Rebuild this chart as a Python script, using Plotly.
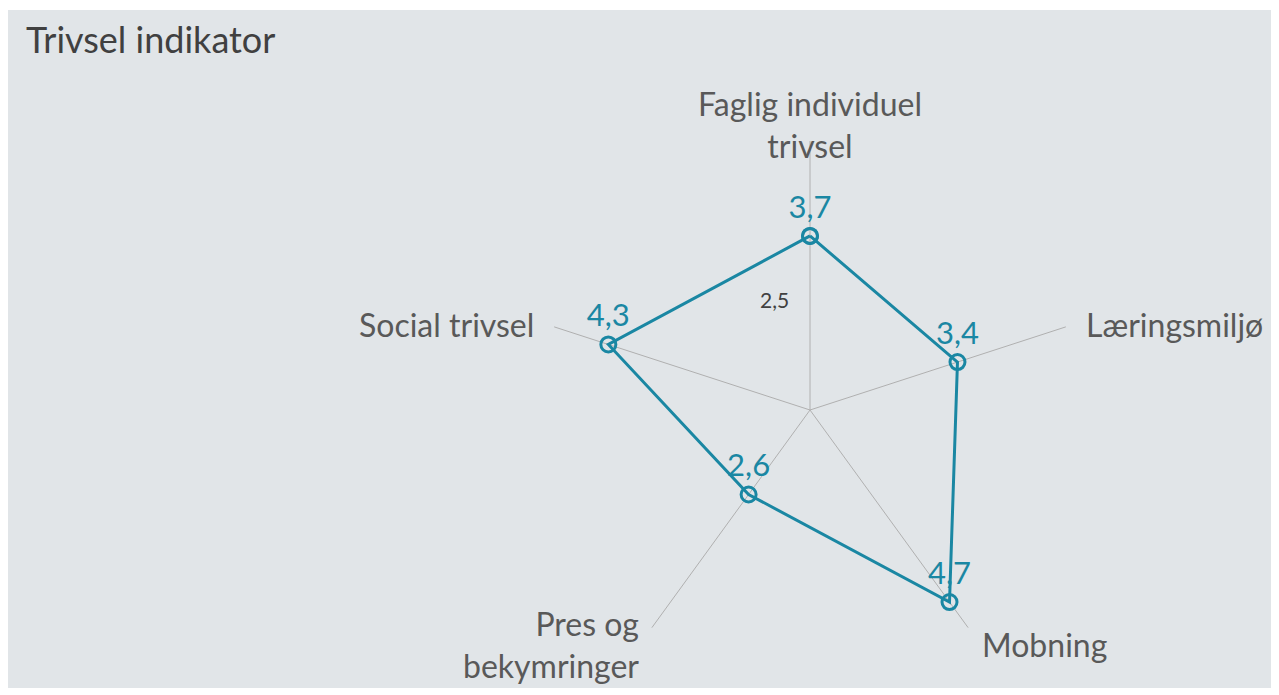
import math
import plotly.graph_objects as go

categories = ["Faglig individuel<br>trivsel", "Læringsmiljø", "Mobning", "Pres og<br>bekymringer", "Social trivsel"]
values = [3.7, 3.4, 4.7, 2.6, 4.3]
value_labels = ["3,7", "3,4", "4,7", "2,6", "4,3"]
radial_tickvals = [2.5]
radial_ticktext = ["2,5"]
title_text = "Trivsel indikator"

TEAL = "#1a87a3"
BG = "#e1e5e8"
OFF = 8  # browser body margin
W, H = 1279 - OFF, 695 - OFF
cx, cy, R = 810 - OFF, 410 - OFF, 269
FONT = "Lato"
RRANGE = [0.95, 5.2]

fig = go.Figure()
fig.add_trace(go.Scatterpolar(
    r=values + values[:1],
    theta=categories + categories[:1],
    text=value_labels + [""],
    mode="lines+markers+text",
    textposition="top center",
    textfont=dict(family=FONT, size=31, color=TEAL),
    line=dict(color=TEAL, width=3),
    marker=dict(symbol="circle-open", size=15, color=TEAL, line=dict(width=3, color=TEAL)),
    showlegend=False,
    hoverinfo="skip",
))

# category labels placed just beyond each spoke end (Excel-like placement)
label_style = [  # (xanchor, dx, dy, align)
    ("center", 0, -17, "center"),
    ("left", 18, -2, "left"),
    ("left", 12, 17, "left"),
    ("right", -11, 17, "right"),
    ("right", -18, -2, "right"),
]
annotations = [dict(text=title_text, xref="paper", yref="paper",
                    x=(24 - OFF) / W, y=1 - (15 - OFF) / H, xanchor="left", yanchor="top",
                    showarrow=False,
                    font=dict(family=FONT, size=36, color="#404040"))]
n = len(categories)
for i, (cat, (xa, dx, dy, al)) in enumerate(zip(categories, label_style)):
    ang = 2 * math.pi * i / n
    ex = cx + R * math.sin(ang)
    ey = cy - R * math.cos(ang)
    annotations.append(dict(text=cat, xref="paper", yref="paper",
                            x=(ex + dx) / W, y=1 - (ey + dy) / H,
                            xanchor=xa, yanchor="middle", align=al, showarrow=False,
                            font=dict(family=FONT, size=32, color="#595959")))

# radial tick label(s), drawn beside the vertical spoke
for tv, tt in zip(radial_tickvals, radial_ticktext):
    ty = cy - R * (tv - RRANGE[0]) / (RRANGE[1] - RRANGE[0])
    annotations.append(dict(text=tt, xref="paper", yref="paper",
                            x=(cx - 19) / W, y=1 - (ty - 12) / H,
                            xanchor="right", yanchor="middle", showarrow=False,
                            font=dict(family=FONT, size=21, color="#404040")))

fig.update_layout(
    width=W, height=H,
    margin=dict(l=0, r=0, t=0, b=0),
    paper_bgcolor="white",
    plot_bgcolor=BG,
    shapes=[dict(type="rect", xref="paper", yref="paper",
                 x0=0, x1=1, y0=1 - (688 - OFF) / H, y1=1 - (10 - OFF) / H,
                 fillcolor=BG, line=dict(width=0), layer="below")],
    annotations=annotations,
    polar=dict(
        domain=dict(x=[(cx - R) / W, (cx + R) / W], y=[(H - cy - R) / H, (H - cy + R) / H]),
        bgcolor="rgba(0,0,0,0)",
        gridshape="linear",
        radialaxis=dict(range=RRANGE, tickvals=radial_tickvals,
                        showline=False, showgrid=False, ticks="", angle=90,
                        showticklabels=False),
        angularaxis=dict(direction="clockwise", rotation=90, showline=False,
                         showgrid=True, gridcolor="#b0b0b0", gridwidth=1.3, ticks="",
                         showticklabels=False),
    ),
)

fig.write_html("out.html")
